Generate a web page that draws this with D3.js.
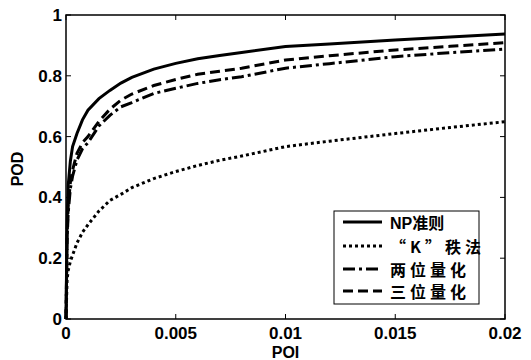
<!DOCTYPE html>
<html>
<head>
<meta charset="utf-8">
<script src="https://cdn.jsdelivr.net/npm/d3@7"></script>
<style>
  body { margin: 0; background: #fff; }
  text { font-family: "Liberation Sans", Arial, sans-serif; font-weight: bold; }
</style>
</head>
<body>
<svg id="chart" width="531" height="360"></svg>
<script>
// POI grid shared by every curve
const poi = [0, 0.00005, 0.0001, 0.0002, 0.0003, 0.0005, 0.00075, 0.001, 0.0015, 0.002, 0.0025,
             0.003, 0.004, 0.005, 0.006, 0.007, 0.008, 0.01, 0.012, 0.015, 0.0175, 0.02];

// POD values
const podNP    = [0, 0.32, 0.44, 0.52, 0.567, 0.61, 0.655, 0.687, 0.725, 0.752, 0.776,
                  0.795, 0.822, 0.841, 0.856, 0.867, 0.877, 0.896, 0.905, 0.918, 0.928, 0.9375];
const podK     = [0, 0.13, 0.16, 0.19, 0.21, 0.25, 0.285, 0.31, 0.355, 0.39, 0.41,
                  0.432, 0.462, 0.485, 0.505, 0.522, 0.536, 0.567, 0.585, 0.61, 0.63, 0.649];
const podTwo   = [0, 0.26, 0.35, 0.43, 0.47, 0.523, 0.56, 0.58, 0.635, 0.67, 0.698,
                  0.712, 0.742, 0.759, 0.775, 0.787, 0.797, 0.825, 0.84, 0.863, 0.876, 0.888];
const podThree = [0, 0.28, 0.37, 0.45, 0.49, 0.545, 0.58, 0.60, 0.65, 0.69, 0.72,
                  0.74, 0.768, 0.788, 0.805, 0.815, 0.825, 0.852, 0.866, 0.885, 0.897, 0.909];

const seriesNames = ["NP准则", "“K”秩法", "两位量化", "三位量化"];
const seriesValues = [podNP, podK, podTwo, podThree];
const dashes = [null, "3,3", "12,4,3,4", "10,5"];

const xTicks = [0, 0.005, 0.01, 0.015, 0.02];
const xTickLabels = ["0", "0.005", "0.01", "0.015", "0.02"];
const yTicks = [0, 0.2, 0.4, 0.6, 0.8, 1];
const yTickLabels = ["0", "0.2", "0.4", "0.6", "0.8", "1"];

const svg = d3.select("#chart");
const plotLeft = 66, plotRight = 505, plotTop = 15, plotBottom = 319;

const x = d3.scaleLinear().domain([0, 0.02]).range([plotLeft, plotRight]);
const y = d3.scaleLinear().domain([0, 1]).range([plotBottom, plotTop]);

// box
svg.append("rect")
    .attr("x", plotLeft).attr("y", plotTop)
    .attr("width", plotRight - plotLeft).attr("height", plotBottom - plotTop)
    .attr("fill", "none").attr("stroke", "#000").attr("stroke-width", 1.5);

// ticks (inward, all four sides like matlab)
const tickLen = 5;
const ticks = svg.append("g").attr("stroke", "#000").attr("stroke-width", 1);
xTicks.forEach(t => {
    ticks.append("line").attr("x1", x(t)).attr("x2", x(t)).attr("y1", plotBottom).attr("y2", plotBottom - tickLen);
    ticks.append("line").attr("x1", x(t)).attr("x2", x(t)).attr("y1", plotTop).attr("y2", plotTop + tickLen);
});
yTicks.forEach(t => {
    ticks.append("line").attr("x1", plotLeft).attr("x2", plotLeft + tickLen).attr("y1", y(t)).attr("y2", y(t));
    ticks.append("line").attr("x1", plotRight).attr("x2", plotRight - tickLen).attr("y1", y(t)).attr("y2", y(t));
});

// tick labels
svg.append("g").selectAll("text")
    .data(xTicks)
    .enter()
    .append("text")
    .attr("x", d => x(d))
    .attr("y", 338.5)
    .attr("text-anchor", "middle")
    .attr("font-size", 17)
    .text((d, i) => xTickLabels[i]);

svg.append("g").selectAll("text")
    .data(yTicks)
    .enter()
    .append("text")
    .attr("x", plotLeft - 4)
    .attr("y", d => y(d) + 6)
    .attr("text-anchor", "end")
    .attr("font-size", 17)
    .text((d, i) => yTickLabels[i]);

// axis titles
svg.append("text").attr("x", x(0.01)).attr("y", 358)
    .attr("text-anchor", "middle").attr("font-size", 16).text("POI");
svg.append("text")
    .attr("transform", `translate(23,${(plotTop + plotBottom) / 2 + 2}) rotate(-90)`)
    .attr("text-anchor", "middle").attr("font-size", 16).text("POD");

// curves
const line = d3.line()
    .x((d, i) => x(poi[i]))
    .y(d => y(d));

svg.append("g").selectAll("path")
    .data(seriesValues)
    .enter()
    .append("path")
    .attr("d", d => line(d))
    .attr("fill", "none")
    .attr("stroke", "#000")
    .attr("stroke-width", 3)
    .attr("stroke-dasharray", (d, i) => dashes[i]);

// legend
const legend = svg.append("g");
legend.append("rect")
    .attr("x", 334).attr("y", 211)
    .attr("width", 145).attr("height", 93)
    .attr("fill", "#fff").attr("stroke", "#000").attr("stroke-width", 1);

const rowY = [222, 246, 269, 291];
seriesNames.forEach((name, i) => {
    legend.append("line")
        .attr("x1", 343).attr("x2", 382)
        .attr("y1", rowY[i]).attr("y2", rowY[i])
        .attr("stroke", "#000").attr("stroke-width", 3)
        .attr("stroke-dasharray", dashes[i]);
    let t = legend.append("text")
        .attr("x", 390).attr("y", rowY[i] + 7)
        .attr("font-size", 16);
    if (i === 0) {
        t.append("tspan").text("NP");
        t.append("tspan").style("font-family", "'Noto Sans CJK SC'").text("准则");
    } else {
        t.style("font-family", "'Noto Sans CJK SC'")
            .attr("letter-spacing", 4)
            .text(name);
    }
});
</script>
</body>
</html>
